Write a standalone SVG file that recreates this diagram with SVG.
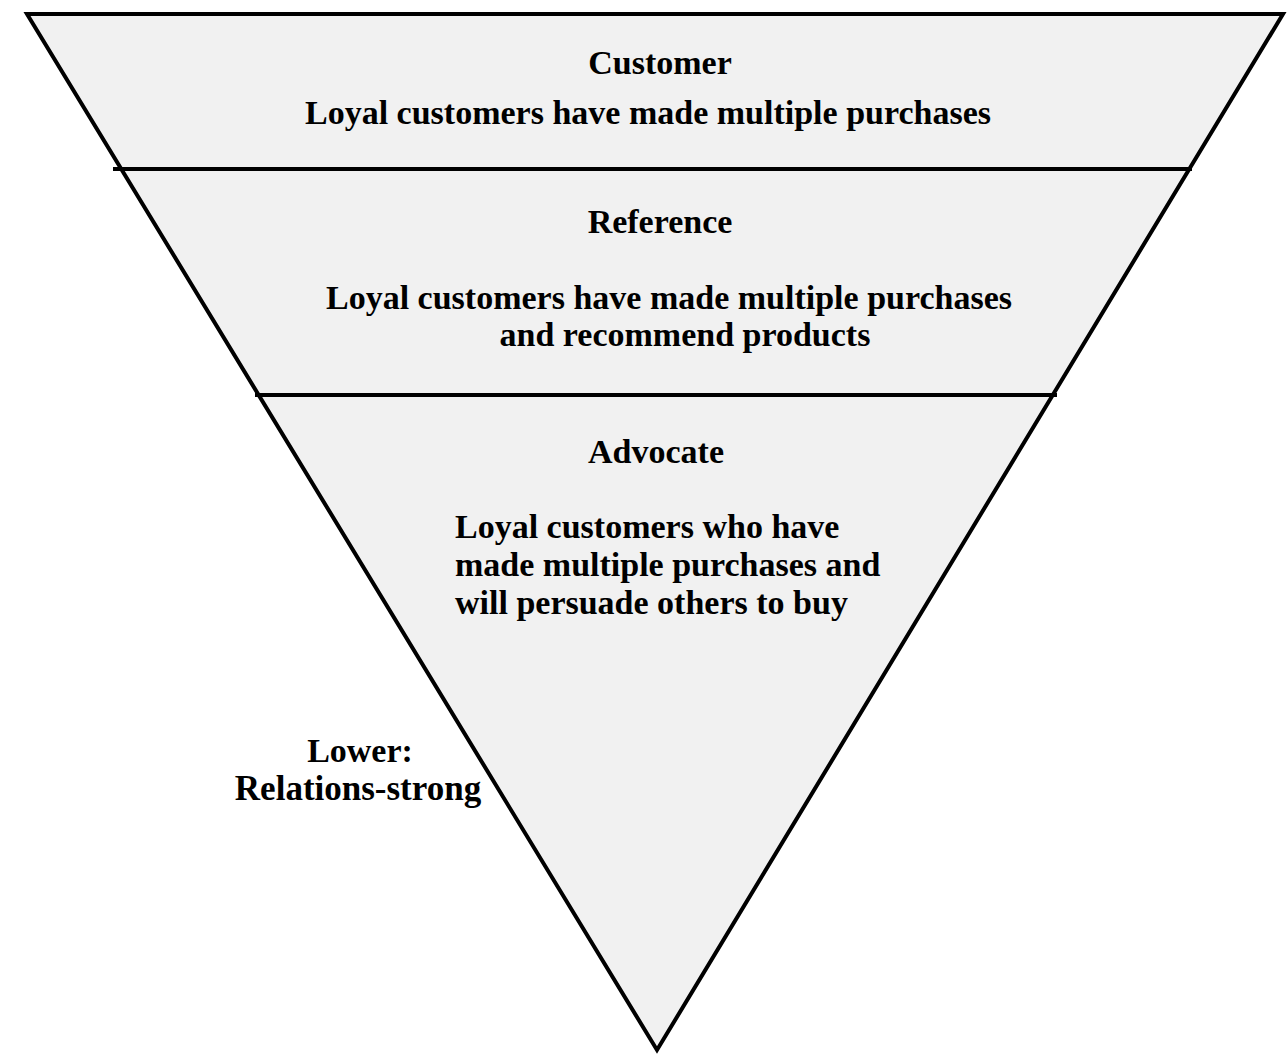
<svg xmlns="http://www.w3.org/2000/svg" width="1287" height="1056" viewBox="0 0 1287 1056">
  <style>
    .tier { fill: #f1f1f1; stroke: none; }
    .edge { fill: none; stroke: #000; stroke-width: 4; stroke-linejoin: miter; }
    .divider { stroke: #000; stroke-width: 4; }
    text { font-family: "Liberation Serif", "Times New Roman", serif; font-weight: bold; font-size: 34px; fill: #000; }
    .c { text-anchor: middle; }
  </style>
  <rect x="0" y="0" width="1287" height="1056" fill="#fff"/>

  <!-- Inverted pyramid tiers -->
  <g id="tier-customer">
    <polygon class="tier" points="27,14 1283,14 1190,169 121,169"/>
    <text class="c" x="660" y="74">Customer</text>
    <text class="c" x="648" y="124">Loyal customers have made multiple purchases</text>
  </g>

  <g id="tier-reference">
    <polygon class="tier" points="121,169 1190,169 1053,395 258,395"/>
    <text class="c" x="660" y="233">Reference</text>
    <text class="c" x="669" y="309">Loyal customers have made multiple purchases</text>
    <text class="c" x="685" y="346">and recommend products</text>
  </g>

  <g id="tier-advocate">
    <polygon class="tier" points="258,395 1053,395 657,1050"/>
    <text class="c" x="656" y="463">Advocate</text>
    <text x="455" y="538">Loyal customers who have</text>
    <text x="455" y="576">made multiple purchases and</text>
    <text x="455" y="614">will persuade others to buy</text>
  </g>

  <!-- Outline and tier boundaries -->
  <g id="outline">
    <polygon class="edge" points="27,14 1283,14 657,1050"/>
    <line class="divider" x1="113" y1="169" x2="1192" y2="169"/>
    <line class="divider" x1="255" y1="395" x2="1057" y2="395"/>
  </g>

  <g id="label-lower">
    <text class="c" x="360" y="762">Lower:</text>
    <text class="c" x="358" y="800" style="font-size:35px">Relations-strong</text>
  </g>
</svg>
